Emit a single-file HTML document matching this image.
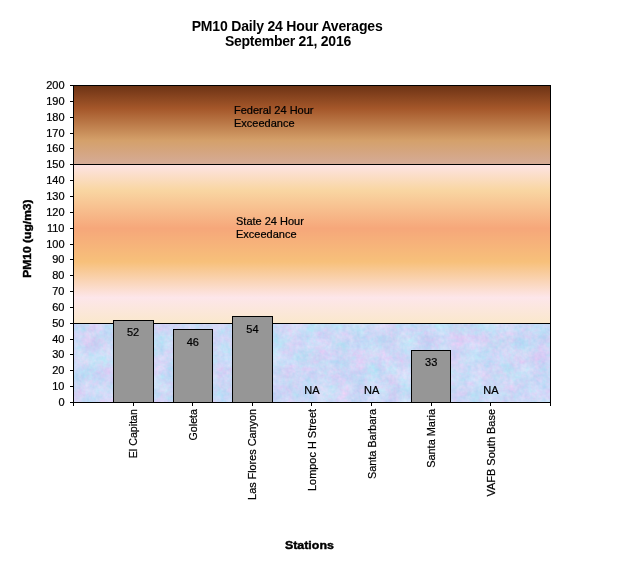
<!DOCTYPE html>
<html><head><meta charset="utf-8"><title>PM10 Daily 24 Hour Averages</title>
<style>
html,body{margin:0;padding:0;background:#fff;}
body{width:634px;height:586px;overflow:hidden;font-family:"Liberation Sans",Arial,sans-serif;}
svg{display:block;}
text{font-family:"Liberation Sans",Arial,sans-serif;fill:#000;}
.t{font-size:14px;font-weight:bold;}
.y,.v,.c,.n{stroke:#000;stroke-width:0.22px;}
.y{font-size:11px;text-anchor:end;}
.v{font-size:11px;text-anchor:middle;}
.c{font-size:11px;text-anchor:end;}
.a{font-size:11px;font-weight:bold;text-anchor:middle;stroke:#000;stroke-width:0.4px;}
.n{font-size:11px;}
</style></head><body>
<svg width="634" height="586" viewBox="0 0 634 586">
<defs>
<linearGradient id="fed" x1="0" y1="0" x2="0" y2="1">
<stop offset="0" stop-color="#6b3214"/>
<stop offset="0.30" stop-color="#a5572a"/>
<stop offset="0.70" stop-color="#d4a06a"/>
<stop offset="1" stop-color="#d5ab97"/>
</linearGradient>
<linearGradient id="sta" x1="0" y1="0" x2="0" y2="1">
<stop offset="0" stop-color="#fde4e6"/>
<stop offset="0.165" stop-color="#f9d6a2"/>
<stop offset="0.405" stop-color="#f6a77a"/>
<stop offset="0.615" stop-color="#f7c07a"/>
<stop offset="0.84" stop-color="#fde6ea"/>
<stop offset="1" stop-color="#fae8cc"/>
</linearGradient>
<filter id="tex" x="0" y="0" width="100%" height="100%" color-interpolation-filters="sRGB">
<feTurbulence type="fractalNoise" baseFrequency="0.06" numOctaves="2" seed="7" result="a0"/>
<feColorMatrix in="a0" type="matrix" values="1 0 0 0 0  0 1 0 0 0  0 0 1 0 0  0 0 0 0 1" result="a"/>
<feTurbulence type="fractalNoise" baseFrequency="0.28" numOctaves="2" seed="23" result="b0"/>
<feColorMatrix in="b0" type="matrix" values="1 0 0 0 0  0 1 0 0 0  0 0 1 0 0  0 0 0 0 1" result="b"/>
<feComposite in="a" in2="b" operator="arithmetic" k1="0" k2="0.62" k3="0.38" k4="0" result="n"/>
<feColorMatrix in="n" type="matrix" values="0.36 0 0.14 0 0.55  -0.1 0.14 0.14 0 0.76  0 0 0.07 0 0.93  0 0 0 0 1"/>
</filter>
</defs>
<rect width="634" height="586" fill="#fff"/>
<rect x="73" y="85" width="478" height="79" fill="url(#fed)"/>
<rect x="73" y="164" width="478" height="159" fill="url(#sta)"/>
<rect x="73" y="323" width="478" height="79" fill="#c8d4f4" filter="url(#tex)"/>
<rect x="73" y="85" width="478" height="1" fill="#000"/>
<rect x="73" y="164" width="478" height="1" fill="#000"/>
<rect x="73" y="323" width="478" height="1" fill="#000"/>
<rect x="73" y="402" width="478" height="1" fill="#000"/>
<rect x="73" y="85" width="1" height="318" fill="#000"/>
<rect x="550" y="85" width="1" height="318" fill="#000"/>
<rect x="70" y="402" width="4" height="1" fill="#000"/>
<text class="y" x="64.5" y="406">0</text>
<rect x="70" y="386" width="4" height="1" fill="#000"/>
<text class="y" x="64.5" y="390">10</text>
<rect x="70" y="370" width="4" height="1" fill="#000"/>
<text class="y" x="64.5" y="374">20</text>
<rect x="70" y="354" width="4" height="1" fill="#000"/>
<text class="y" x="64.5" y="358">30</text>
<rect x="70" y="339" width="4" height="1" fill="#000"/>
<text class="y" x="64.5" y="343">40</text>
<rect x="70" y="323" width="4" height="1" fill="#000"/>
<text class="y" x="64.5" y="327">50</text>
<rect x="70" y="307" width="4" height="1" fill="#000"/>
<text class="y" x="64.5" y="311">60</text>
<rect x="70" y="291" width="4" height="1" fill="#000"/>
<text class="y" x="64.5" y="295">70</text>
<rect x="70" y="275" width="4" height="1" fill="#000"/>
<text class="y" x="64.5" y="279">80</text>
<rect x="70" y="259" width="4" height="1" fill="#000"/>
<text class="y" x="64.5" y="263">90</text>
<rect x="70" y="244" width="4" height="1" fill="#000"/>
<text class="y" x="64.5" y="248">100</text>
<rect x="70" y="228" width="4" height="1" fill="#000"/>
<text class="y" x="64.5" y="232">110</text>
<rect x="70" y="212" width="4" height="1" fill="#000"/>
<text class="y" x="64.5" y="216">120</text>
<rect x="70" y="196" width="4" height="1" fill="#000"/>
<text class="y" x="64.5" y="200">130</text>
<rect x="70" y="180" width="4" height="1" fill="#000"/>
<text class="y" x="64.5" y="184">140</text>
<rect x="70" y="164" width="4" height="1" fill="#000"/>
<text class="y" x="64.5" y="168">150</text>
<rect x="70" y="148" width="4" height="1" fill="#000"/>
<text class="y" x="64.5" y="152">160</text>
<rect x="70" y="133" width="4" height="1" fill="#000"/>
<text class="y" x="64.5" y="137">170</text>
<rect x="70" y="117" width="4" height="1" fill="#000"/>
<text class="y" x="64.5" y="121">180</text>
<rect x="70" y="101" width="4" height="1" fill="#000"/>
<text class="y" x="64.5" y="105">190</text>
<rect x="70" y="85" width="4" height="1" fill="#000"/>
<text class="y" x="64.5" y="89">200</text>
<rect x="73" y="402" width="1" height="4" fill="#000"/>
<rect x="133" y="402" width="1" height="4" fill="#000"/>
<rect x="192" y="402" width="1" height="4" fill="#000"/>
<rect x="252" y="402" width="1" height="4" fill="#000"/>
<rect x="311" y="402" width="1" height="4" fill="#000"/>
<rect x="371" y="402" width="1" height="4" fill="#000"/>
<rect x="431" y="402" width="1" height="4" fill="#000"/>
<rect x="490" y="402" width="1" height="4" fill="#000"/>
<rect x="550" y="402" width="1" height="4" fill="#000"/>
<rect x="113.5" y="320.5" width="40" height="82" fill="#969696" stroke="#000" stroke-width="1"/>
<text class="v" x="133.1" y="336">52</text>
<rect x="173.5" y="329.5" width="39" height="73" fill="#969696" stroke="#000" stroke-width="1"/>
<text class="v" x="192.8" y="346">46</text>
<rect x="232.5" y="316.5" width="40" height="86" fill="#969696" stroke="#000" stroke-width="1"/>
<text class="v" x="252.4" y="333">54</text>
<text class="v" x="312.0" y="394">NA</text>
<text class="v" x="371.6" y="394">NA</text>
<rect x="411.5" y="350.5" width="39" height="52" fill="#969696" stroke="#000" stroke-width="1"/>
<text class="v" x="431.2" y="366">33</text>
<text class="v" x="490.9" y="394">NA</text>
<text class="c" textLength="49.3" lengthAdjust="spacingAndGlyphs" transform="translate(137.1,409) rotate(-90)" x="0" y="0">El Capitan</text>
<text class="c" textLength="31.5" lengthAdjust="spacingAndGlyphs" transform="translate(196.8,409) rotate(-90)" x="0" y="0">Goleta</text>
<text class="c" textLength="90.9" lengthAdjust="spacingAndGlyphs" transform="translate(256.4,409) rotate(-90)" x="0" y="0">Las Flores Canyon</text>
<text class="c" textLength="82.0" lengthAdjust="spacingAndGlyphs" transform="translate(316.0,409) rotate(-90)" x="0" y="0">Lompoc H Street</text>
<text class="c" textLength="70.1" lengthAdjust="spacingAndGlyphs" transform="translate(375.6,409) rotate(-90)" x="0" y="0">Santa Barbara</text>
<text class="c" textLength="58.8" lengthAdjust="spacingAndGlyphs" transform="translate(435.2,409) rotate(-90)" x="0" y="0">Santa Maria</text>
<text class="c" textLength="87.5" lengthAdjust="spacingAndGlyphs" transform="translate(494.9,409) rotate(-90)" x="0" y="0">VAFB South Base</text>
<text class="t" x="191.7" y="31" textLength="191" lengthAdjust="spacing">PM10 Daily 24 Hour Averages</text>
<text class="t" x="224.9" y="46" textLength="126.3" lengthAdjust="spacing">September 21, 2016</text>
<text class="n" x="234" y="114">Federal 24 Hour</text>
<text class="n" x="234" y="127">Exceedance</text>
<text class="n" x="236" y="225">State 24 Hour</text>
<text class="n" x="236" y="238">Exceedance</text>
<text class="a" x="309.4" y="548.7" textLength="49" lengthAdjust="spacingAndGlyphs">Stations</text>
<text class="a" transform="translate(31,238.6) rotate(-90)" x="0" y="0" textLength="78.3" lengthAdjust="spacingAndGlyphs">PM10 (ug/m3)</text>
</svg>
</body></html>
